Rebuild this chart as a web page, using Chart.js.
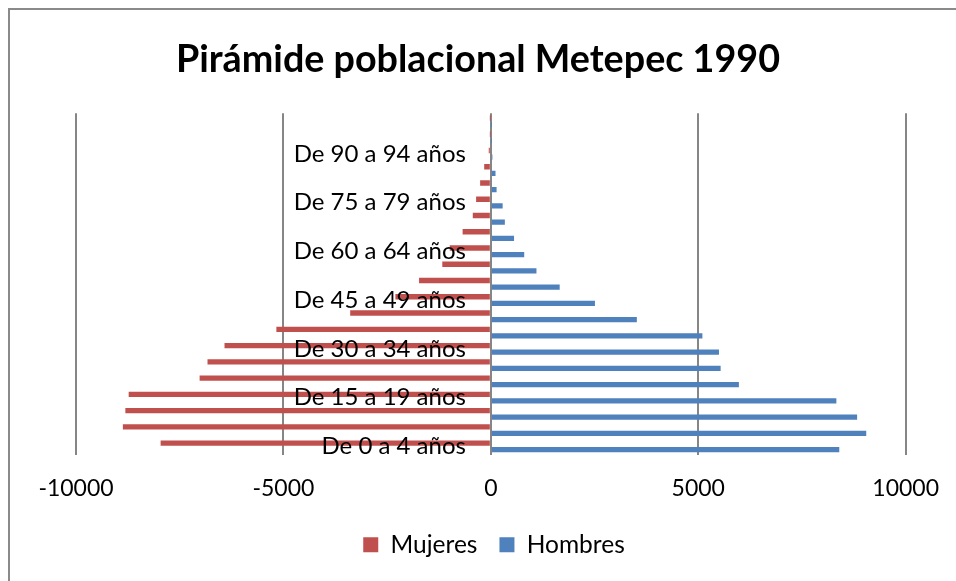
<!DOCTYPE html>
<html lang="es">
<head>
<meta charset="UTF-8">
<title>Pirámide poblacional Metepec 1990</title>
<script src="https://cdn.jsdelivr.net/npm/chart.js@4.4.1/dist/chart.umd.min.js"></script>
<style>
  html, body { margin: 0; padding: 0; background: #fff; overflow: hidden; }
  .frame { position: absolute; left: 8px; top: 8px; width: 1000px; height: 1000px; border: 2px solid #8a8a8a; }
  .chart-box { position: absolute; left: 0; top: 0; width: 956px; height: 581px; }
</style>
</head>
<body>
<div class="frame"></div>
<div class="chart-box"><canvas id="pyramidChart"></canvas></div>
<script>
// Age groups, bottom to top
const ageGroups = [
  "De 0 a 4 años", "De 5 a 9 años", "De 10 a 14 años", "De 15 a 19 años",
  "De 20 a 24 años", "De 25 a 29 años", "De 30 a 34 años", "De 35 a 39 años",
  "De 40 a 44 años", "De 45 a 49 años", "De 50 a 54 años", "De 55 a 59 años",
  "De 60 a 64 años", "De 65 a 69 años", "De 70 a 74 años", "De 75 a 79 años",
  "De 80 a 84 años", "De 85 a 89 años", "De 90 a 94 años", "De 95 a 99 años",
  "De 100 años y más",
];

// Women are plotted as negative values (left side)
const mujeres = [
  -7960, -8870, -8810, -8730, -7020, -6830, -6420, -5170, -3390, -2300,
  -1730, -1170, -990, -680, -435, -355, -258, -160, -50, -6, -2,
];

const hombres = [
  8400, 9050, 8830, 8330, 5980, 5540, 5500, 5100, 3520, 2510,
  1660, 1100, 805, 560, 338, 285, 139, 113, 38, 4, 1,
];

const xTicks = [-10000, -5000, 0, 5000, 10000];

const FONT = "Lato, 'Open Sans', sans-serif";
const RED = "#C0504D";
const BLUE = "#4F81BD";

// Center the title on the whole canvas instead of the padded area
const centerTitle = {
  id: "centerTitle",
  afterLayout(chart) {
    const t = chart.titleBlock;
    if (t) {
      t.left = 0;
      t.right = chart.width;
      t.width = chart.width;
    }
  },
};

const ctx = document.getElementById("pyramidChart").getContext("2d");
const chart = new Chart(ctx, {
  type: "bar",
  data: {
    labels: ageGroups,
    datasets: [
      {
        label: "Mujeres",
        data: mujeres,
        backgroundColor: RED,
        categoryPercentage: 0.82,
        barPercentage: 0.8,
      },
      {
        label: "Hombres",
        data: hombres,
        backgroundColor: BLUE,
        categoryPercentage: 0.82,
        barPercentage: 0.8,
      },
    ],
  },
  options: {
    indexAxis: "y",
    responsive: true,
    maintainAspectRatio: false,
    animation: false,
    layout: {
      padding: { left: 76, right: 44, top: 0, bottom: 14 },
    },
    scales: {
      x: {
        min: -10000,
        max: 10000,
        afterBuildTicks: (axis) => {
          axis.ticks = xTicks.map((v) => ({ value: v }));
        },
        afterFit: (axis) => {
          axis.height = 56;
        },
        ticks: {
          color: "#000",
          font: { family: FONT, size: 23 },
          padding: 17,
          callback: (value) => String(value),
        },
        grid: {
          color: "#868686",
          lineWidth: 2,
          drawTicks: true,
          tickLength: 3,
          tickColor: "rgba(0,0,0,0)",
        },
        border: { display: false },
      },
      y: {
        reverse: true,
        position: { x: -600 },
        grid: { display: false },
        border: { display: false },
        ticks: {
          z: 1,
          autoSkip: false,
          color: "#000",
          font: { family: FONT, size: 24 },
          callback: (value, index) => (index % 3 === 0 ? ageGroups[index] : ""),
        },
      },
    },
    plugins: {
      title: {
        display: true,
        text: "Pirámide poblacional Metepec 1990",
        color: "#000",
        font: { family: FONT, size: 37.7, weight: "bold" },
        padding: { top: 37, bottom: 31 },
      },
      legend: {
        position: "bottom",
        labels: {
          color: "#000",
          font: { family: FONT, size: 24.5 },
          boxWidth: 15,
          boxHeight: 15,
          padding: 22,
        },
      },
      tooltip: { enabled: false },
    },
  },
  plugins: [centerTitle],
});
</script>
</body>
</html>
